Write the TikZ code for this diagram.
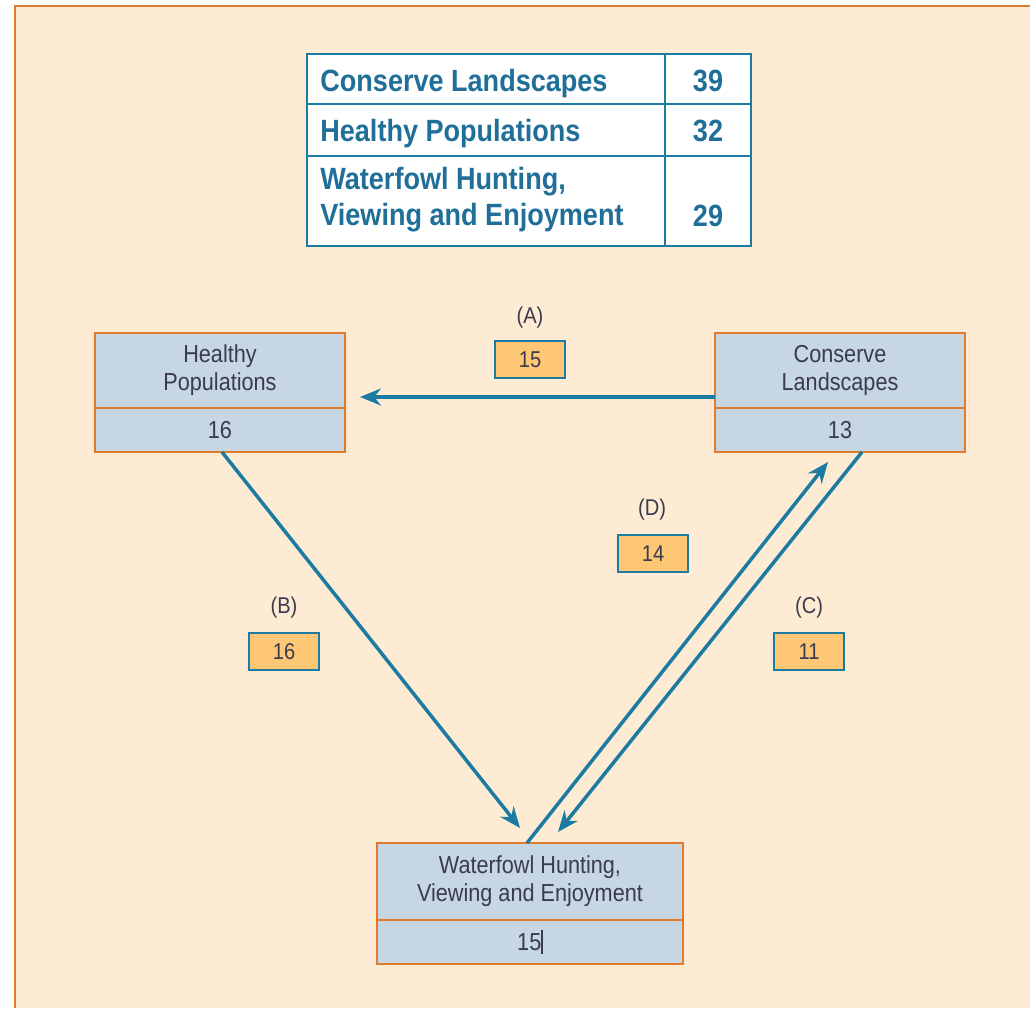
\documentclass[tikz,border=0pt]{standalone}
\usepackage{fontspec}
\setmainfont[FakeStretch=0.88]{Liberation Sans}
\usepackage{tikz}
\usetikzlibrary{arrows.meta,positioning}

\definecolor{panel}{HTML}{FEEBD3}
\definecolor{panelline}{HTML}{E07A2C}
\definecolor{boxfill}{HTML}{C6D6E2}
\definecolor{arrowblue}{HTML}{1B7BA3}
\definecolor{tabblue}{HTML}{1F6F99}
\definecolor{labfill}{HTML}{FDC776}
\definecolor{textgrey}{HTML}{3B3B4F}

\begin{document}
\begin{tikzpicture}[x=0.02cm,y=-0.02cm,
    goal/.style={draw=panelline, line width=1.2pt, fill=boxfill, minimum width=5cm,
      minimum height=1.5cm, inner sep=0pt, outer sep=0pt, align=center, text=textgrey,
      font=\fontsize{14}{16}\selectfont},
    score/.style={goal, minimum height=0.88cm},
    link/.style={draw=arrowblue, line width=2pt, -{Stealth[length=0.42cm,width=0.34cm]}},
    tag/.style={draw=arrowblue, line width=1pt, fill=labfill, minimum width=1.4cm,
      minimum height=0.74cm, inner sep=0pt, text=textgrey, font=\fontsize{13}{15}\selectfont},
    letter/.style={text=textgrey, font=\fontsize{13}{15}\selectfont},
    tabtext/.style={anchor=base west, text=tabblue, align=left, inner sep=0pt,
      font=\fontsize{17.5}{20.4}\selectfont\bfseries},
    tabnum/.style={anchor=base, text=tabblue, inner sep=0pt, font=\fontsize{17.5}{20}\selectfont\bfseries}]
  \useasboundingbox (0,0) rectangle (1030,1008);
  % panel
  \fill [panel] (15,6) rectangle (1030,1008);
  \draw [panelline, line width=1.4pt] (15,1008) -- (15,6) -- (1030,6);

  % summary table
  \draw [arrowblue, line width=1.1pt, fill=white] (307,54) rectangle (751,246);
  \draw [arrowblue, line width=1.1pt] (665,54) -- (665,246);
  \draw [arrowblue, line width=1.1pt] (307,104) -- (751,104);
  \draw [arrowblue, line width=1.1pt] (307,156) -- (751,156);
  \node [tabtext] (row1) at (320,91) {Conserve Landscapes};
  \node [tabtext] (row2) at (320,141) {Healthy Populations};
  \node [tabtext, anchor=west] (row3) at (320,200) {Waterfowl Hunting,\\Viewing and Enjoyment};
  \node [tabnum] (n1) at (708,91) {39};
  \node [tabnum] (n2) at (708,141) {32};
  \node [tabnum] (n3) at (708,226) {29};

  % goal boxes
  \node [goal] (hp) at (220,370.5) {Healthy\\Populations};
  \node [score, below=0pt of hp] (hpn) {16};
  \node [goal] (cl) at (840,370.5) {Conserve\\Landscapes};
  \node [score, below=0pt of cl] (cln) {13};
  \node [goal, minimum width=6.12cm, minimum height=1.54cm] (wf) at (530,881.5)
    {Waterfowl Hunting,\\Viewing and Enjoyment};
  \node [score, minimum width=6.12cm, below=0pt of wf] (wfn) {15\rule[-0.15em]{0.06em}{0.95em}};

  % links
  \draw [link] ([yshift=-0.53cm]cl.west) -- ([yshift=-0.53cm,xshift=0.3cm]hp.east);
  \draw [link] ([xshift=0.04cm]hpn.south) -- ([xshift=-0.2cm,yshift=0.3cm]wf.north);
  \draw [link] ([xshift=-0.06cm]wf.north) -- ([xshift=-0.24cm,yshift=-0.2cm]cln.south);
  \draw [link] ([xshift=0.44cm]cln.south) -- ([xshift=0.56cm,yshift=0.22cm]wf.north);

  % link values
  \node [tag] (ta) at (530,359.5) {15};
  \node [letter] (la) at (530,318) {(A)};
  \node [tag] (td) at (653,553.5) {14};
  \node [letter] (ld) at (652,510) {(D)};
  \node [tag] (tb) at (284,651.5) {16};
  \node [letter] (lb) at (284,608) {(B)};
  \node [tag] (tc) at (809,651.5) {11};
  \node [letter] (lc) at (809,608) {(C)};
\end{tikzpicture}
\end{document}
